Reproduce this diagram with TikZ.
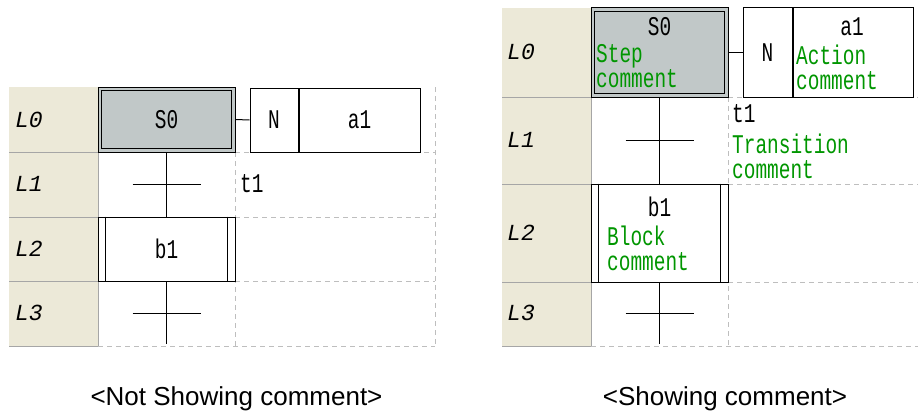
\documentclass[tikz,border=0pt]{standalone}
\usepackage{fontspec}
\setmainfont{Liberation Sans}
\newfontfamily\gridfont[FakeStretch=0.72]{Liberation Mono}
\newfontfamily\rowfont{Liberation Mono}
\usetikzlibrary{positioning}
\definecolor{hdrbeige}{RGB}{236,233,216}
\definecolor{stepgray}{RGB}{193,200,200}
\definecolor{gridgray}{RGB}{190,190,190}
\definecolor{cmtgreen}{RGB}{0,150,0}

\begin{document}
\begin{tikzpicture}[
  x=1pt,y=-1pt,
  hdr/.style={fill=hdrbeige},
  hdrline/.style={gray!70,line width=1pt},
  rowlbl/.style={font=\rowfont\fontsize{23}{23}\selectfont\itshape,
                 anchor=west,inner sep=0},
  lbl/.style={font=\gridfont\fontsize{27}{25}\selectfont,inner sep=0},
  cmt/.style={lbl,text=cmtgreen,align=left,anchor=north west},
  stepbox/.style={lbl,draw,fill=stepgray,line width=1pt,minimum width=137pt},
  actbox/.style={lbl,draw,fill=white,line width=1pt},
  blockbox/.style={lbl,draw,fill=white,line width=1pt,minimum width=137pt},
  gridline/.style={gridgray,dash pattern=on 5pt off 4pt,line width=0.8pt},
  wire/.style={line width=1pt},
  capt/.style={font=\fontsize{26}{26}\selectfont,inner sep=0,anchor=base}
]
\useasboundingbox (0,0) rectangle (918,412);

% ---- left panel: comments hidden ----
\fill[hdr] (9,87) rectangle (98,346);
\foreach \y in {152,217,281,346}
  {\draw[hdrline] (9,\y) -- (98,\y);}
\draw[hdrline] (98,87) -- (98,346);
\foreach \y/\n in {120/0,184/1,249/2,313/3}
  {\node[rowlbl] (la\n) at (15,\y) {L\n};}

\draw[gridline] (235,152) -- (435,152) (235,217) -- (435,217)
                (235,281) -- (435,281) (98,346) -- (435,346);
\draw[gridline] (235,152) -- (235,346) (435,87) -- (435,346);

\node[stepbox,minimum height=65pt] (s0a) at (166.5,119.5) {S0};
\draw[line width=1.5pt] ([shift={(4pt,-4pt)}]s0a.north west)
  rectangle ([shift={(-4pt,4pt)}]s0a.south east);
\node[actbox,minimum width=48pt,minimum height=64pt] (na) at (274,120) {N};
\node[actbox,minimum width=121pt,minimum height=64pt,right=0pt of na] (a1a) {a1};
\draw[wire] (s0a.east) -- (na.west);

\node[blockbox,minimum height=64pt] (b1a) at (166.5,249) {b1};
\draw[wire] ([xshift=8pt]b1a.north west) -- ([xshift=8pt]b1a.south west)
            ([xshift=-8pt]b1a.north east) -- ([xshift=-8pt]b1a.south east);

\coordinate (t1a) at (166.5,184);
\coordinate (t2a) at (166.5,313);
\coordinate (enda) at (166.5,344);
\draw[wire] (s0a.south) -- (b1a.north);
\draw[wire] (b1a.south) -- (enda);
\draw[wire] (t1a) +(-34,0) -- +(34,0);
\draw[wire] (t2a) +(-34,0) -- +(34,0);
\node[lbl,anchor=west] (t1atxt) at (240,184) {t1};

\node[capt] (capa) at (236.5,405) {<Not Showing comment>};

% ---- right panel: comments shown ----
\fill[hdr] (502,8) rectangle (591,346);
\foreach \y in {97,184,282,346}
  {\draw[hdrline] (502,\y) -- (591,\y);}
\draw[hdrline] (591,8) -- (591,346);
\foreach \y/\n in {52/0,140/1,233/2,313/3}
  {\node[rowlbl] (lb\n) at (507,\y) {L\n};}

\draw[gridline] (728,97) -- (918,97) (728,184) -- (918,184)
                (728,282) -- (918,282) (591,346) -- (918,346);
\draw[gridline] (728,97) -- (728,346);

\node[stepbox,minimum height=89pt] (s0b) at (659.5,52.5) {};
\draw[line width=1.5pt] ([shift={(4pt,-4pt)}]s0b.north west)
  rectangle ([shift={(-4pt,4pt)}]s0b.south east);
\node[lbl] (s0bname) at (659.5,27) {S0};
\node[cmt] (s0bcmt) at (596,44) {Step\\comment};

\node[actbox,minimum width=49pt,minimum height=89pt] (nb) at (767.5,52.5) {N};
\node[actbox,minimum width=120pt,minimum height=89pt,right=0pt of nb] (a1b) {};
\node[lbl] (a1bname) at (852,27) {a1};
\node[cmt] (a1bcmt) at (796,45) {Action\\comment};
\draw[wire] (s0b.east) -- (nb.west);

\node[blockbox,minimum height=98pt] (b1b) at (659.5,233) {};
\draw[wire] ([xshift=8pt]b1b.north west) -- ([xshift=8pt]b1b.south west)
            ([xshift=-8pt]b1b.north east) -- ([xshift=-8pt]b1b.south east);
\node[lbl] (b1bname) at (659.5,207) {b1};
\node[cmt] (b1bcmt) at (607,226) {Block\\comment};

\coordinate (t1b) at (659.5,140);
\coordinate (t2b) at (659.5,313);
\coordinate (endb) at (659.5,344);
\draw[wire] (s0b.south) -- (b1b.north);
\draw[wire] (b1b.south) -- (endb);
\draw[wire] (t1b) +(-34,0) -- +(34,0);
\draw[wire] (t2b) +(-34,0) -- +(34,0);
\node[lbl,anchor=west] (t1btxt) at (732,114) {t1};
\node[cmt] (t1bcmt) at (732,134) {Transition\\comment};

\node[capt] (capb) at (725,405) {<Showing comment>};
\end{tikzpicture}
\end{document}
